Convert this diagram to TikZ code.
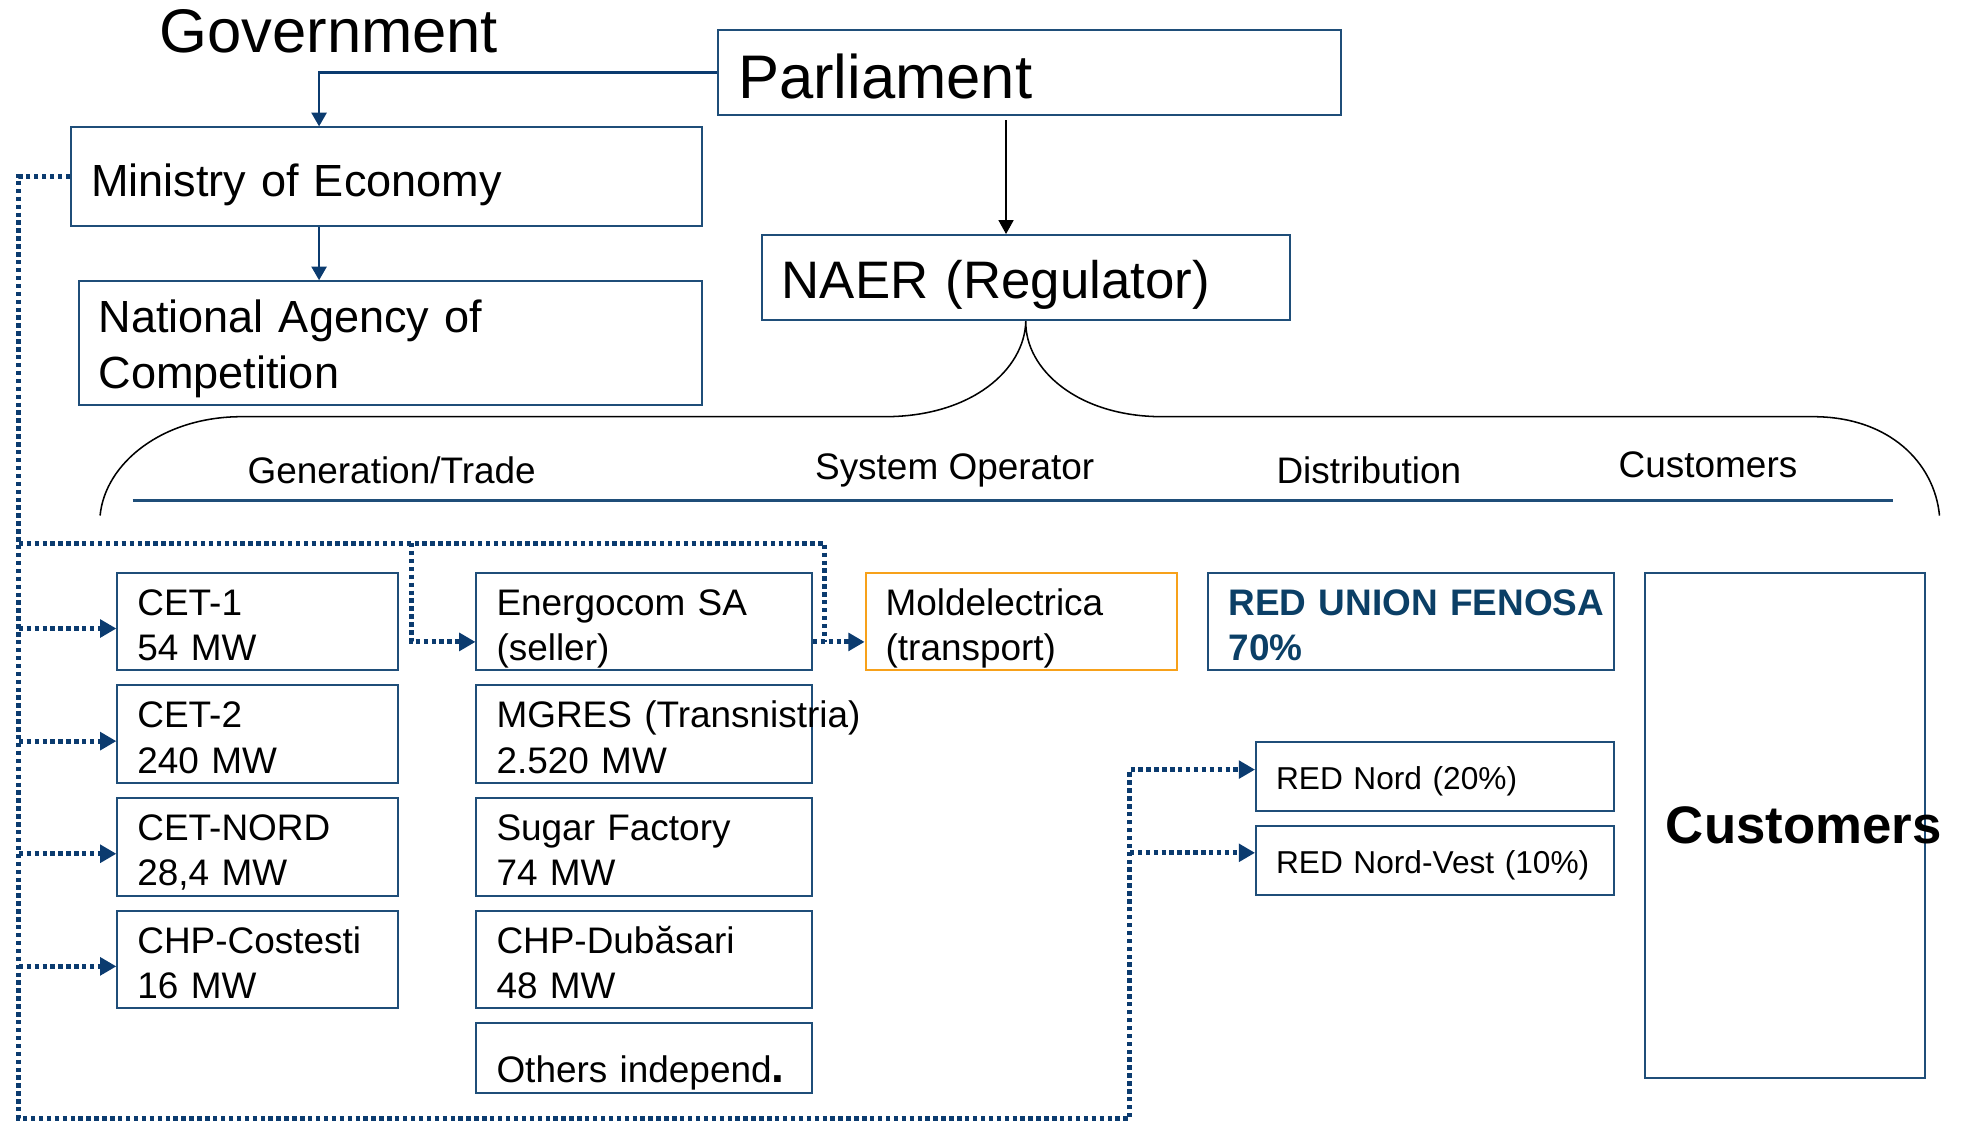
\documentclass[tikz,border=0pt]{standalone}
\usepackage{fontspec}
\setmainfont{Liberation Sans}
\usetikzlibrary{arrows.meta,positioning}
\definecolor{orgBlue}{HTML}{1F4E79}
\definecolor{orgNavy}{HTML}{0B3B6F}
\definecolor{orgTeal}{HTML}{0B3F66}
\definecolor{orgAmber}{HTML}{F7A11A}

\begin{document}
\begin{tikzpicture}[x=0.2mm,y=-0.2mm,
    orgbox/.style={draw=orgBlue,line width=0.9pt,anchor=north west,align=left,
                   inner xsep=3.2mm,inner ysep=0pt},
    twoline/.style={minimum height=15.6mm,text height=6.5mm,text depth=8.5mm,
                    font=\fontsize{16.8}{20.5}\selectfont},
    genbox/.style={orgbox,twoline,text width=38.4mm},
    tradebox/.style={orgbox,twoline,text width=47.2mm},
    distbox/.style={orgbox,text width=50.8mm,minimum height=11.1mm,text height=5.4mm,text depth=1.2mm,
                    font=\fontsize{14.4}{17}\selectfont},
    head/.style={anchor=base,font=\fontsize{16.8}{20}\selectfont},
    solarr/.style={-{Triangle[length=2.2mm,width=2.4mm]},orgNavy,line width=1.2pt},
    thinarr/.style={-{Triangle[length=2.2mm,width=2.4mm]},black,line width=0.5pt},
    dotline/.style={orgNavy,line width=2.3pt,dash pattern=on 2pt off 1.6pt},
    dotarr/.style={dotline,-{Triangle[length=2.6mm,width=2.8mm]}}]
  \useasboundingbox (0,0) rectangle (1568,897);

  % top level
  \node[anchor=base west,inner sep=0pt,font=\fontsize{28}{32}\selectfont] (gov) at (127,42) {Government};
  \node[orgbox,text width=93.2mm,minimum height=13.6mm,text height=10.4mm,text depth=2mm,
        font=\fontsize{28}{32}\selectfont] (parl) at (573,23) {Parliament};
  \node[orgbox,text width=94.4mm,minimum height=15.8mm,text height=7.7mm,text depth=1.5mm,
        font=\fontsize{20.5}{25.6}\selectfont] (min) at (56,101) {Ministry of Economy};
  \node[orgbox,text width=93.2mm,minimum height=19.8mm,text height=7.1mm,text depth=10.5mm,
        font=\fontsize{20.5}{25.6}\selectfont] (nac) at (62,224) {National Agency of\\Competition};
  \node[orgbox,text width=78mm,minimum height=13.6mm,text height=8.8mm,text depth=2mm,
        font=\fontsize{24}{28}\selectfont] (naer) at (608,187) {NAER (Regulator)};

  \coordinate (govx) at (255,0);
  \coordinate (regx) at (804,96);
  \draw[solarr] (parl.west) -| (govx |- min.north);
  \draw[solarr] (govx |- min.south) -- (govx |- nac.north);
  \draw[thinarr] (regx) -- (regx |- naer.north);

  % market segments
  \draw[black,line width=0.7pt] (80,412) .. controls (84,370) and (130,333) .. (193,333) -- (707,333)
    .. controls (777,333) and (819,295) .. (naer.south)
    .. controls (819,295) and (861,333) .. (929,333) -- (1449,333)
    .. controls (1510,333) and (1546,370) .. (1550,412);
  \node[head] (hgen) at (313,386) {Generation/Trade};
  \node[head] (hsys) at (763,383) {System Operator};
  \node[head] (hdist) at (1094,386) {Distribution};
  \node[head] (hcust) at (1365,382) {Customers};
  \draw[orgBlue,line width=1.7pt] (106,400) -- (1513,400);

  % generation
  \node[genbox] (cet1) at (93,457) {CET-1\\54 MW};
  \node[genbox] (cet2) at (93,547) {CET-2\\240 MW};
  \node[genbox] (cetn) at (93,637) {CET-NORD\\28,4 MW};
  \node[genbox] (chpc) at (93,727) {CHP-Costesti\\16 MW};
  % trade
  \node[tradebox] (enrg) at (380,457) {Energocom SA\\(seller)};
  \node[tradebox] (mgres) at (380,547) {\mbox{MGRES (Transnistria)}\\2.520 MW};
  \node[tradebox] (sugar) at (380,637) {Sugar Factory\\74 MW};
  \node[tradebox] (chpd) at (380,727) {CHP-Dubăsari\\48 MW};
  \node[orgbox,text width=47.2mm,minimum height=11.2mm,text height=8.8mm,text depth=1.2mm,
        font=\fontsize{16.8}{20.5}\selectfont] (other) at (380,817)
    {Others independ{\fontsize{21}{21}\selectfont\textbf{.}}};
  % operator, distribution, customers
  \node[orgbox,twoline,draw=orgAmber,text width=43.4mm] (mold) at (691,457) {Moldelectrica\\(transport)};
  \node[orgbox,twoline,text width=58.4mm,text=orgTeal,font=\fontsize{16.8}{20.5}\selectfont\bfseries] (ruf) at (965,457)
    {\mbox{RED UNION FENOSA}\\70\%};
  \node[distbox] (rn) at (1003,592) {RED Nord (20\%)};
  \node[distbox] (rnv) at (1003,659) {RED Nord-Vest (10\%)};
  \node[orgbox,minimum width=44.8mm,minimum height=80.8mm] (custbox) at (1314,457) {};
  \node[right=3.4mm of custbox.west,inner sep=0pt,font=\fontsize{24}{28}\selectfont\bfseries] (custtxt) {Customers};

  % dotted control links
  \coordinate (busL) at (15,0);
  \coordinate (busB) at (0,894);
  \coordinate (busR) at (903,0);
  \coordinate (busT) at (0,434);
  \coordinate (tapE) at (329,434);
  \coordinate (tapM) at (659,434);
  \coordinate (feed) at (0,513);
  \coordinate (inrn) at ([yshift=1.1mm]rn.west);
  \coordinate (inrnv) at ([yshift=1.2mm]rnv.west);
  \draw[dotarr] (min.west) -| (busL |- busB) -- (busR |- busB) |- (inrn);
  \draw[dotarr] (busR |- inrnv) -- (inrnv);
  \foreach \g in {cet1,cet2,cetn,chpc}{
    \coordinate (in\g) at ([yshift=-1.1mm]\g.west);
    \draw[dotarr] (busL |- in\g) -- (in\g);
  }
  \draw[dotline] (busL |- busT) -- (tapM) -- (tapM |- feed);
  \draw[dotarr] (tapE) |- (enrg.west |- feed);
  \draw[dotarr] (enrg.east |- feed) -- (mold.west |- feed);
\end{tikzpicture}
\end{document}
